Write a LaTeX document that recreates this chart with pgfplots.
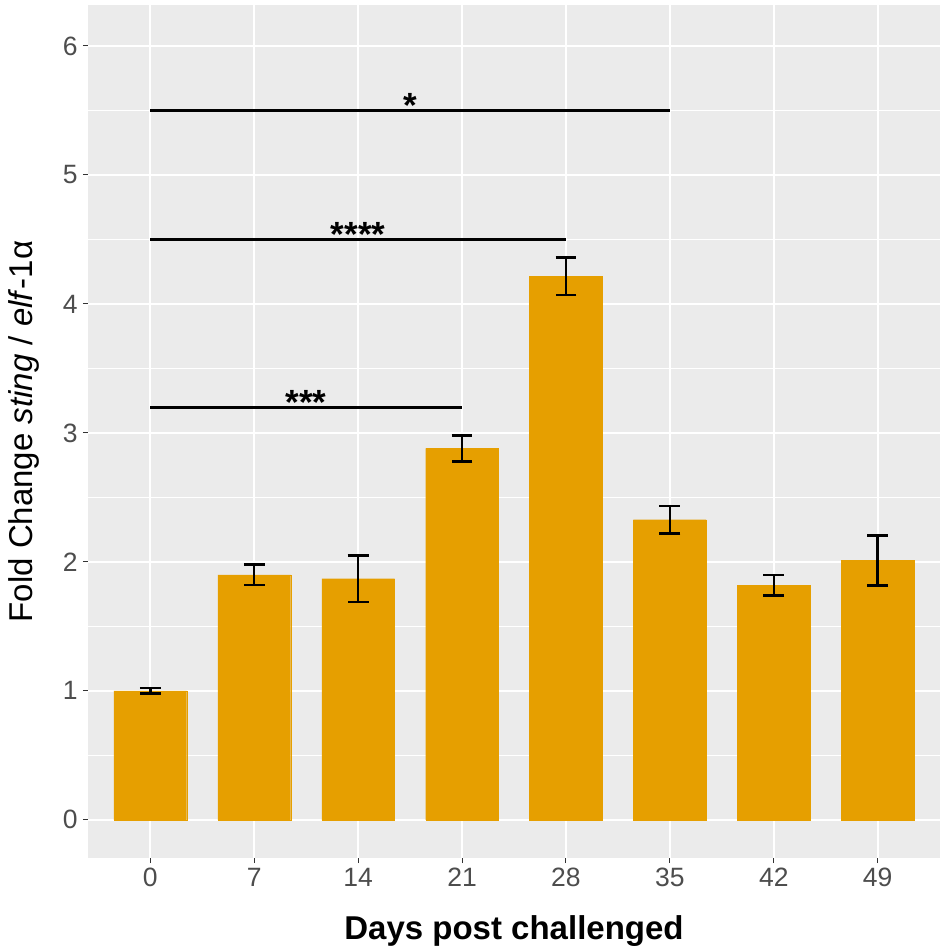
\documentclass[border=0pt]{standalone}
\usepackage{pgfplots}
\pgfplotsset{compat=1.18}
\usepackage{fontspec}
\setmainfont{Liberation Sans}
\definecolor{barc}{HTML}{E69F00}
\definecolor{panel}{HTML}{EBEBEB}
\definecolor{tickc}{HTML}{4D4D4D}
\definecolor{tickm}{HTML}{333333}
\begin{document}
\begin{tikzpicture}
\begin{axis}[
  width=426pt, height=426.5pt, scale only axis,
  xmin=-0.6, xmax=7.6, ymin=-0.296, ymax=6.318,
  axis background/.style={fill=panel},
  axis line style={draw=none},
  xtick={0,...,7}, xticklabels={0,7,14,21,28,35,42,49},
  ytick={0,...,6}, minor ytick={0.5,1.5,...,5.5},
  grid=both,
  major grid style={white, line width=1.1pt},
  minor grid style={white, line width=0.55pt},
  tick align=outside, tick pos=left,
  major tick length=2.5pt, minor tick length=0pt,
  tick style={tickm, line width=0.5pt},
  /pgf/number format/assume math mode=true,
  ticklabel style={font=\fontsize{13.25}{15}\selectfont, text=tickc, inner sep=0pt},
  yticklabel style={anchor=east, xshift=-2.5pt},
  xticklabel style={anchor=north, yshift=-2.5pt},
  xlabel={\bfseries Days post challenged},
  ylabel={Fold Change \textit{sting} / \textit{elf}-1α},
  label style={font=\fontsize{16.5}{19}\selectfont, inner sep=0pt},
  xlabel style={at={(axis description cs:0.5,-0.0961)}, anchor=base},
  ylabel style={at={(axis description cs:-0.0657,0.5)}, anchor=base},
  clip=false,
]
\addplot[ybar, bar width=0.7, fill=barc, draw=barc, line width=0.1pt,
  error bars/.cd, y dir=both, y explicit,
  error bar style={black, line width=1.25pt},
  error mark options={black, line width=1.25pt, mark size=5.2pt, rotate=90}]
  coordinates {
  (0,1.00) +- (0,0.022)
  (1,1.90) +- (0,0.08)
  (2,1.87) +- (0,0.18)
  (3,2.88) +- (0,0.10)
  (4,4.215) +- (0,0.145)
  (5,2.327) +- (0,0.105)
  (6,1.82) +- (0,0.08)
  (7,2.01) +- (0,0.195)
  };
\addplot[black, line width=1.4pt, mark=none] coordinates {(0,3.2) (3,3.2)};
\addplot[black, line width=1.4pt, mark=none] coordinates {(0,4.5) (4,4.5)};
\addplot[black, line width=1.4pt, mark=none] coordinates {(0,5.5) (5,5.5)};
\node[anchor=base, inner sep=0pt, font=\bfseries\fontsize{17.5}{20}\selectfont] at (axis cs:1.5,3.143) {***};
\node[anchor=base, inner sep=0pt, font=\bfseries\fontsize{17.5}{20}\selectfont] at (axis cs:2,4.443) {****};
\node[anchor=base, inner sep=0pt, font=\bfseries\fontsize{17.5}{20}\selectfont] at (axis cs:2.5,5.443) {*};
\coordinate (sw) at (rel axis cs:0,0);
\coordinate (ne) at (rel axis cs:1,1);
\end{axis}
\pgfresetboundingbox
\path ([shift={(-44pt,-45pt)}]sw) rectangle ([shift={(4pt,2.5pt)}]ne);
\end{tikzpicture}
\end{document}
